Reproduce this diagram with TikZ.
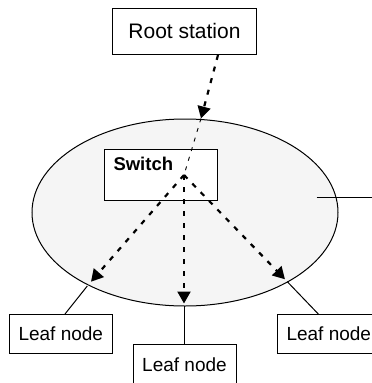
\documentclass[tikz,border=0pt]{standalone}
\usepackage{fontspec}
\setmainfont{Liberation Sans}
\usetikzlibrary{arrows.meta,shapes.geometric}
\definecolor{cloud}{RGB}{245,245,245}

\begin{document}
\begin{tikzpicture}[x=1pt,y=-1pt,
  box/.style={draw,line width=1pt,fill=white,inner sep=0pt},
  leafbox/.style={box,minimum width=103pt,minimum height=39pt,font=\fontsize{19}{22}\selectfont},
  flow/.style={line width=2.2pt,dash pattern=on 5pt off 7pt,-{Triangle[length=12pt,width=13pt]}},
  hint/.style={line width=0.9pt,dash pattern=on 4pt off 6pt},
  tie/.style={line width=1pt}]
\useasboundingbox (0,0) rectangle (372,383);

% network cloud
\node[ellipse,draw,line width=1pt,fill=cloud,inner sep=0pt,outer sep=0pt,
      minimum width=306pt,minimum height=187pt] (net) at (185,212.5) {};

% boxes
\node[box,minimum width=144pt,minimum height=46.5pt,font=\fontsize{21}{24}\selectfont]
  (root) at (184.5,31.25) {Root station};
\node[box,minimum width=113pt,minimum height=51pt] (switch) at (161,174.5) {};
\node[anchor=base west,inner sep=0pt,font=\bfseries\fontsize{18.5}{21}\selectfont]
  (switchlabel) at (113.3,170.7) {Switch};
\node[leafbox] (leafL) at (60.8,334) {Leaf node};
\node[leafbox] (leafC) at (184.5,364.3) {Leaf node};
\node[leafbox] (leafR) at (328.8,334) {Leaf node};

% points on and inside the cloud
\coordinate (entry) at (201,118.5);
\coordinate (hub) at (184,175);
\coordinate (tipL) at (91,281.7);
\coordinate (tipC) at (184,303.5);
\coordinate (tipR) at (285,279.3);
\coordinate (rimL) at (87.3,286);
\coordinate (rimC) at (184.5,306);
\coordinate (rimR) at (287.3,281.7);
\coordinate (stubA) at (316.7,197.3);
\coordinate (stubB) at (372,197.3);

% attachments of the leaves
\draw[tie] ([xshift=4.2pt]leafL.north) -- (rimL);
\draw[tie] (leafC.north) -- (rimC);
\draw[tie] ([xshift=-10.5pt]leafR.north) -- (rimR);
\draw[tie] (stubA) -- (stubB);

% traffic paths
\draw[flow] ([xshift=33.5pt]root.south) -- (entry);
\draw[hint] (entry) -- (hub);
\draw[flow] (hub) -- (tipL);
\draw[flow] (hub) -- (tipC);
\draw[flow] (hub) -- (tipR);
\end{tikzpicture}
\end{document}
